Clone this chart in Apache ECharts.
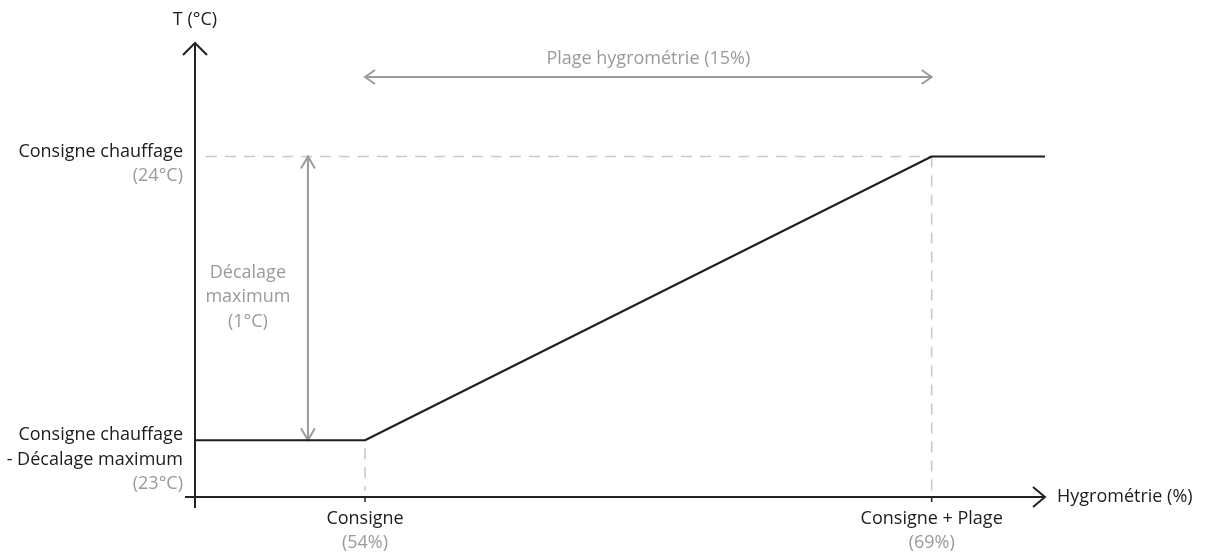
<!DOCTYPE html>
<html>
<head>
<meta charset="utf-8">
<script src="https://cdn.jsdelivr.net/npm/echarts@6/dist/echarts.min.js"></script>
<style>
  html, body { margin: 0; padding: 0; background: #fff; }
  #chart { width: 1205px; height: 554px; }
</style>
</head>
<body>
<div id="chart"></div>
<script>
// Temperature setpoint versus relative humidity
const hygro = [49.5, 54, 69, 72];          // %
const temp = [23, 23, 24, 24];             // °C

const xTickValues = [54, 69];
const xTickNames = ['Consigne', 'Consigne + Plage'];
const xTickValueText = ['(54%)', '(69%)'];

const yTickValues = [23, 24];
const yTickNames = [['Consigne chauffage', '- Décalage maximum'], ['Consigne chauffage']];
const yTickValueText = ['(23°C)', '(24°C)'];

const xAxisName = 'Hygrométrie (%)';
const yAxisName = 'T (°C)';
const rangeLabel = 'Plage hygrométrie (15%)';
const offsetLabel = ['Décalage', 'maximum', '(1°C)'];

const xMin = 49.5, xMax = 72;
const yMin = 22.8, yMax = 24.4;
const rangeArrowY = 24.28;     // height of the humidity range arrow
const offsetArrowX = 52.49;    // position of the offset arrow
const offsetTextX = 50.9;

const FONT = '"Open Sans", "DejaVu Sans", sans-serif';
const BLACK = '#1c1c1c';
const GREY_TEXT = '#9a9a9a';
const GREY_ARROW = '#9b9b9b';
const DASH = '#c9c9c9';

function font(size) { return size + 'px ' + FONT; }

function chevron(tip, dx, dy, ux, uy, color, w) {
  // open arrow head pointing along (ux, uy)
  const px = -uy, py = ux;
  return {
    type: 'polyline',
    shape: { points: [
      [tip[0] - ux * dx + px * dy, tip[1] - uy * dx + py * dy],
      tip,
      [tip[0] - ux * dx - px * dy, tip[1] - uy * dx - py * dy]
    ] },
    style: { stroke: color, lineWidth: w, fill: null }
  };
}

function line(a, b, color, w, dash) {
  return {
    type: 'line',
    shape: { x1: a[0], y1: a[1], x2: b[0], y2: b[1] },
    style: { stroke: color, lineWidth: w, lineDash: dash || null }
  };
}

function text(str, x, y, color, align, size) {
  return {
    type: 'text',
    style: { text: str, x: x, y: y, fill: color, font: font(size || 18),
             align: align || 'center', verticalAlign: 'middle' }
  };
}

function renderDiagram(params, api) {
  const kids = [];
  const origin = api.coord([xMin, yMin]);
  const yTop = api.coord([xMin, yMax]);
  const xEnd = api.coord([xMax, yMin]);

  // axes with open arrow heads
  kids.push(line([origin[0], origin[1] + 11], yTop, '#222', 2));
  kids.push(chevron(yTop, 12, 12, 0, -1, '#222', 2));
  kids.push(line([origin[0] - 10, origin[1]], xEnd, '#222', 2));
  kids.push(chevron(xEnd, 12, 10, 1, 0, '#222', 2));

  // axis names
  kids.push(text(yAxisName, yTop[0], yTop[1] - 23, BLACK, 'center'));
  kids.push(text(xAxisName, xEnd[0] + 12, xEnd[1], BLACK, 'left'));

  // x ticks, guides and labels
  xTickValues.forEach(function (v, i) {
    const p = api.coord([v, yMin]);
    kids.push(line([p[0], p[1]], [p[0], p[1] + 5], '#222', 1.5));
    const lvl = api.coord([v, i === 0 ? temp[0] : temp[temp.length - 1]]);
    kids.push(line([p[0], lvl[1] + (i === 0 ? 8 : 0)], [p[0], p[1] - 6], DASH, 1.6, [11, 8]));
    kids.push(text(xTickNames[i], p[0], p[1] + 22, BLACK, 'center'));
    kids.push(text(xTickValueText[i], p[0], p[1] + 46, GREY_TEXT, 'center'));
  });

  // y labels
  yTickValues.forEach(function (v, i) {
    const p = api.coord([xMin, v]);
    const lines = yTickNames[i];
    let y = p[1] - 5;
    lines.forEach(function (s) {
      kids.push(text(s, p[0] - 12, y, BLACK, 'right'));
      y += 25;
    });
    kids.push(text(yTickValueText[i], p[0] - 12, y - 1, GREY_TEXT, 'right'));
  });

  // horizontal guide at the upper setpoint
  const hiStart = api.coord([xMin, yTickValues[1]]);
  const hiEnd = api.coord([xTickValues[1], yTickValues[1]]);
  kids.push(line([hiStart[0] + 11, hiStart[1]], hiEnd, DASH, 1.6, [11, 8]));

  // humidity range double arrow
  const r1 = api.coord([xTickValues[0], rangeArrowY]);
  const r2 = api.coord([xTickValues[1], rangeArrowY]);
  kids.push(line(r1, r2, GREY_ARROW, 2));
  kids.push(chevron(r1, 10, 7, -1, 0, GREY_ARROW, 2));
  kids.push(chevron(r2, 10, 7, 1, 0, GREY_ARROW, 2));
  kids.push(text(rangeLabel, (r1[0] + r2[0]) / 2, r1[1] - 18, GREY_TEXT, 'center'));

  // maximum offset double arrow
  const o1 = api.coord([offsetArrowX, yTickValues[1]]);
  const o2 = api.coord([offsetArrowX, yTickValues[0]]);
  kids.push(line(o1, o2, GREY_ARROW, 2));
  kids.push(chevron(o1, 12, 7, 0, -1, GREY_ARROW, 2));
  kids.push(chevron(o2, 12, 7, 0, 1, GREY_ARROW, 2));
  const tc = api.coord([offsetTextX, (yTickValues[0] + yTickValues[1]) / 2]);
  offsetLabel.forEach(function (s, i) {
    kids.push(text(s, tc[0], tc[1] - 26 + i * 24.5, GREY_TEXT, 'center'));
  });

  return { type: 'group', children: kids };
}

const chart = echarts.init(document.getElementById('chart'), null, { renderer: 'canvas' });
chart.setOption({
  animation: false,
  backgroundColor: '#ffffff',
  grid: { left: 195, right: 160, top: 43, bottom: 57 },
  xAxis: {
    type: 'value', min: xMin, max: xMax,
    axisLine: { show: false }, axisTick: { show: false },
    axisLabel: { show: false }, splitLine: { show: false }
  },
  yAxis: {
    type: 'value', min: yMin, max: yMax,
    axisLine: { show: false }, axisTick: { show: false },
    axisLabel: { show: false }, splitLine: { show: false }
  },
  series: [
    {
      type: 'custom',
      clip: false,
      silent: true,
      z: 1,
      data: [[0]],
      renderItem: renderDiagram
    },
    {
      type: 'line',
      z: 3,
      symbol: 'none',
      silent: true,
      lineStyle: { color: '#1e1e1e', width: 2 },
      data: hygro.map(function (h, i) { return [h, temp[i]]; })
    }
  ]
});
</script>
</body>
</html>
